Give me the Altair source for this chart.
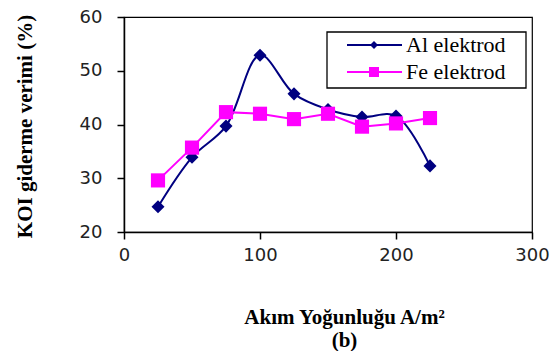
import altair as alt
import pandas as pd

# Current density (A/m2) and COD removal efficiency (%) for each electrode
current_density = [25, 50, 75, 100, 125, 150, 175, 200, 225]
al_removal = [24.7, 33.9, 39.7, 52.9, 45.7, 42.8, 41.4, 41.6, 32.3]
fe_removal = [29.6, 35.7, 42.3, 42.0, 41.0, 42.0, 39.6, 40.2, 41.2]

series_names = ["Al elektrod", "Fe elektrod"]
series_colors = ["#000080", "#FF00FF"]

SERIF = "Liberation Serif, Times New Roman, DejaVu Serif, serif"

df = pd.concat([
    pd.DataFrame({"x": current_density, "y": al_removal, "seri": series_names[0]}),
    pd.DataFrame({"x": current_density, "y": fe_removal, "seri": series_names[1]}),
])
al_df = df[df.seri == series_names[0]]
fe_df = df[df.seri == series_names[1]]

W, H = 408, 215

x_enc = alt.X(
    "x:Q",
    scale=alt.Scale(domain=[0, 300], nice=False),
    axis=alt.Axis(
        values=[0, 100, 200, 300],
        title=["Akım Yoğunluğu A/m²", "(b)"],
        titleFont=SERIF, titleFontSize=21, titleFontWeight="bold",
        titleColor="black", titleLineHeight=23,
        titleX=220, titleY=91, titleAlign="center", titleBaseline="alphabetic",
        labelFont="DejaVu Sans", labelFontSize=18, labelColor="#222222",
        labelPadding=7, labelFlush=False, tickSize=7, grid=False,
        domainColor="black", tickColor="black", domainWidth=1.5, tickWidth=1.5,
    ),
)
y_enc = alt.Y(
    "y:Q",
    scale=alt.Scale(domain=[20, 60], nice=False),
    axis=alt.Axis(
        values=[20, 30, 40, 50, 60],
        title="KOI giderme verimi (%)",
        titleFont=SERIF, titleFontSize=21, titleFontWeight="bold",
        titleColor="black", titleAngle=-90,
        titleX=-99, titleY=109, titleAlign="center", titleBaseline="middle",
        labelFont="DejaVu Sans", labelFontSize=18, labelColor="#222222",
        labelPadding=15, labelFlush=False, tickSize=7, grid=False,
        domainColor="black", tickColor="black", domainWidth=1.5, tickWidth=1.5,
    ),
)

al_line = alt.Chart(al_df).mark_line(
    color=series_colors[0], strokeWidth=2, interpolate="catmull-rom"
).encode(x=x_enc, y=y_enc)
al_pts = alt.Chart(al_df).mark_point(
    shape="diamond", filled=True, color=series_colors[0], size=170, opacity=1
).encode(x="x:Q", y="y:Q")

fe_line = alt.Chart(fe_df).mark_line(
    color=series_colors[1], strokeWidth=2
).encode(x="x:Q", y="y:Q")
fe_pts = alt.Chart(fe_df).mark_point(
    shape="square", filled=True, color=series_colors[1], size=200, opacity=1
).encode(x="x:Q", y="y:Q")

# Legend box with one row per electrode
legend_box = alt.Chart(pd.DataFrame({"k": [0]})).mark_rect(
    fill="white", stroke="black", strokeWidth=1.3
).encode(x=alt.value(203), x2=alt.value(402), y=alt.value(15), y2=alt.value(71))

legend_layers = [legend_box]
row_y = [28, 55]
legend_shapes = [("diamond", 64), ("square", 100)]
for name, color, ry, (shp, sz) in zip(series_names, series_colors, row_y, legend_shapes):
    row = pd.DataFrame({"seri": [name]})
    legend_layers.append(
        alt.Chart(row).mark_rule(color=color, strokeWidth=2).encode(
            x=alt.value(223), x2=alt.value(278), y=alt.value(ry)
        )
    )
    legend_layers.append(
        alt.Chart(row).mark_point(shape=shp, filled=True, color=color, size=sz, opacity=1).encode(
            x=alt.value(250), y=alt.value(ry)
        )
    )
    legend_layers.append(
        alt.Chart(row).mark_text(
            align="left", baseline="middle", font=SERIF, fontSize=22, color="black"
        ).encode(x=alt.value(282), y=alt.value(ry), text="seri:N")
    )

chart = alt.layer(
    al_line, fe_line, al_pts, fe_pts, *legend_layers
).properties(
    width=W, height=H,
    autosize=alt.AutoSizeParams(type="none"),
    padding={"left": 124, "top": 17, "right": 27, "bottom": 119},
    background="white",
).configure_view(stroke="black", strokeWidth=1.2)

chart.save("out.html", embed_options={"renderer": "svg", "actions": False})
